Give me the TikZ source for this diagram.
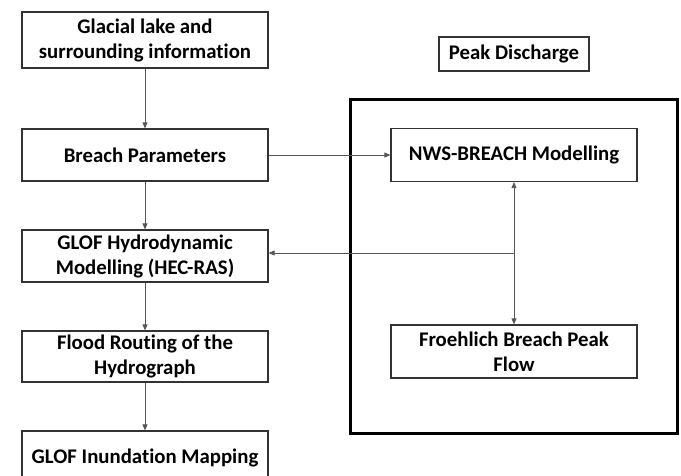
\documentclass[tikz,border=0pt]{standalone}
\usepackage{fontspec}
\setmainfont{Carlito}[Ligatures=NoCommon]
\usetikzlibrary{arrows.meta}
\definecolor{boxline}{HTML}{333333}
\definecolor{arrline}{HTML}{555555}
\tikzset{
  procbox/.style={draw=boxline, line width=1.2pt, fill=white, align=center,
    inner sep=0pt, font=\fontsize{20.8}{25}\selectfont\bfseries},
  flowarrow/.style={draw=arrline, line width=0.8pt, -{Triangle[length=6pt,width=5pt]}},
  flowline/.style={draw=arrline, line width=0.8pt},
}
\begin{document}
\begin{tikzpicture}[x=1pt,y=-1pt]
\useasboundingbox (0,0) rectangle (681,475);
\clip (0,0) rectangle (681,475);
% outer thick frame
\draw[line width=3pt, black] (350,99) rectangle (677,433);
% left column
\node[procbox, minimum width=246pt, minimum height=56pt] (glacial) at (145,40) {Glacial lake and\\surrounding information};
\node[procbox, minimum width=246pt, minimum height=52pt] (breach) at (145,155) {Breach Parameters};
\node[procbox, minimum width=246pt, minimum height=52pt] (hydro) at (145,256) {GLOF Hydrodynamic\\Modelling (HEC-RAS)};
\node[procbox, minimum width=246pt, minimum height=51pt] (flood) at (145,356.5) {Flood Routing of the\\Hydrograph};
\node[procbox, minimum width=246pt, minimum height=54pt] (inund) at (145,458) {GLOF Inundation Mapping};
% right column
\node[procbox, minimum width=150pt, minimum height=34pt] (peak) at (514,54) {Peak Discharge};
\node[procbox, minimum width=246pt, minimum height=53pt] (nws) at (514,155) {NWS-BREACH Modelling};
\node[procbox, minimum width=246pt, minimum height=53pt] (froeh) at (514,351.5) {Froehlich Breach Peak\\Flow};
\coordinate (j) at (514,253);
% connectors
\draw[flowarrow] (glacial.south) -- (breach.north);
\draw[flowarrow] (breach.south) -- (hydro.north);
\draw[flowarrow] (hydro.south) -- (flood.north);
\draw[flowarrow] (flood.south) -- (inund.north);
\draw[flowarrow] (breach.east) -- (nws.west);
\draw[flowline, {Triangle[length=6pt,width=5pt]}-{Triangle[length=6pt,width=5pt]}] (nws.south) -- (froeh.north);
\draw[flowarrow] (j) -- (j -| hydro.east);
\end{tikzpicture}
\end{document}
